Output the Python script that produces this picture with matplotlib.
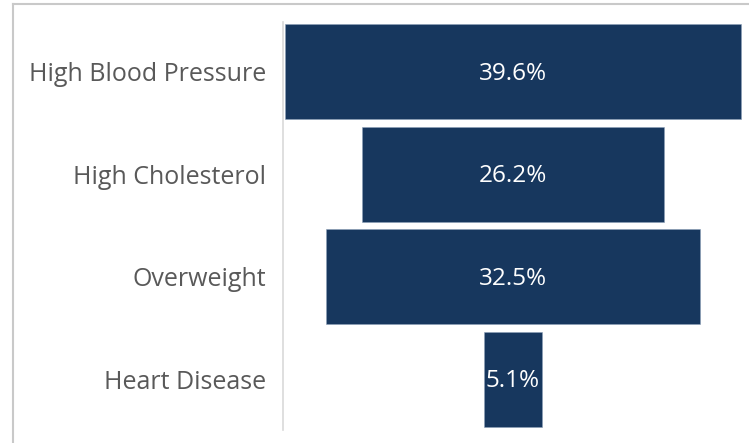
import matplotlib
matplotlib.use("Agg")
import matplotlib.pyplot as plt
from matplotlib.lines import Line2D

# Share of respondents per condition
conditions = ["High Blood Pressure", "High Cholesterol", "Overweight", "Heart Disease"]
shares = [39.6, 26.2, 32.5, 5.1]

BAR_COLOR = "#17375e"
LABEL_GREY = "#595959"
BORDER_GREY = "#c9c9c9"

plt.rcParams['font.family'] = ['Open Sans', 'DejaVu Sans']

fig = plt.figure(figsize=(7.49, 4.43), dpi=100, facecolor="white")
W, H = 749, 443
ax = fig.add_axes([283 / W, 13 / H, 466 / W, 408 / H])

ypos = list(range(len(conditions)))
lefts = [-v / 2 for v in shares]
ax.barh(ypos, shares, left=lefts, height=0.93, color=BAR_COLOR,
        edgecolor="#8da0b8", linewidth=0.4)

for y, v in zip(ypos, shares):
    ax.text(0, y + 0.02, f"{v:.1f}%", ha="center", va="center", color="white", fontsize=17.5)

ax.set_xlim(-19.97, 20.48)
ax.set_ylim(3.495, -0.485)
ax.set_yticks(ypos)
ax.set_yticklabels(conditions, fontsize=18, color=LABEL_GREY)
ax.tick_params(axis="y", length=0, pad=12)
ax.set_xticks([])
for side in ("top", "right", "bottom"):
    ax.spines[side].set_visible(False)
ax.spines["left"].set_color("#d9d9d9")
ax.spines["left"].set_linewidth(1.2)

# outer chart frame (top and left edges)
fig.add_artist(Line2D([12.5 / W, 12.5 / W], [0, 1 - 4 / H], transform=fig.transFigure,
                      color=BORDER_GREY, lw=1.5))
fig.add_artist(Line2D([12.5 / W, 1], [1 - 4 / H, 1 - 4 / H], transform=fig.transFigure,
                      color=BORDER_GREY, lw=1.5))

fig.savefig("out.png", dpi=100, facecolor="white")
